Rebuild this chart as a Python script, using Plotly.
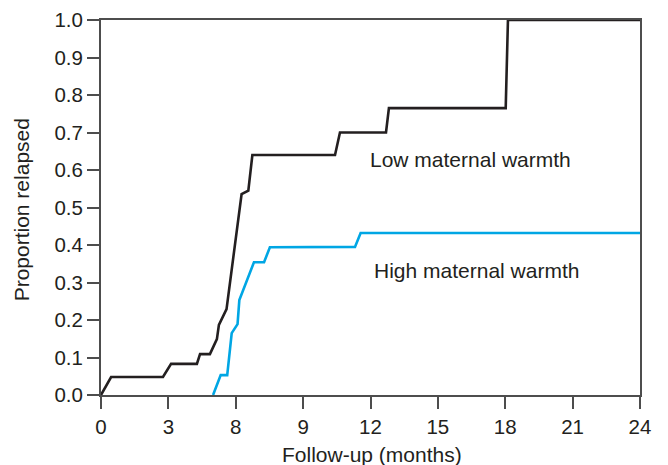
import plotly.graph_objects as go

# Kaplan-Meier style cumulative relapse curves (months, proportion relapsed)
low_months = [0, 0.45, 2.76, 3.12, 4.27, 4.41, 4.85, 5.16, 5.25, 5.59, 6.26, 6.56,
              6.74, 10.42, 10.64, 12.69, 12.82, 18.02, 18.12, 24]
low_relapsed = [0, 0.048, 0.048, 0.083, 0.083, 0.109, 0.109, 0.149, 0.187, 0.229,
                0.536, 0.545, 0.64, 0.64, 0.70, 0.70, 0.765, 0.765, 1.0, 1.0]

high_months = [4.99, 5.33, 5.62, 5.82, 6.08, 6.16, 6.81, 7.26, 7.52, 11.31, 11.56, 24]
high_relapsed = [0, 0.053, 0.053, 0.165, 0.189, 0.253, 0.354, 0.354, 0.394, 0.395,
                 0.432, 0.432]

x_tick_vals = [0, 3, 6, 9, 12, 15, 18, 21, 24]
x_tick_text = ["0", "3", "8", "9", "12", "15", "18", "21", "24"]
y_tick_vals = [0.0, 0.1, 0.2, 0.3, 0.4, 0.5, 0.6, 0.7, 0.8, 0.9, 1.0]

series_labels = ["Low maternal warmth", "High maternal warmth"]
x_title = "Follow-up (months)"
y_title = "Proportion relapsed"

FONT = "Liberation Sans, Arial, sans-serif"
TEXT = "#231f20"
AXIS = "#4d4d4d"

fig = go.Figure()
fig.add_trace(go.Scatter(
    x=low_months, y=low_relapsed, mode="lines",
    line=dict(color="#231f20", width=2.6), cliponaxis=False,
    name=series_labels[0], showlegend=False,
))
fig.add_trace(go.Scatter(
    x=high_months, y=high_relapsed, mode="lines",
    line=dict(color="#00a6e4", width=2.6), cliponaxis=False,
    name=series_labels[1], showlegend=False,
))

# curve labels
fig.add_annotation(x=11.89, y=0.628, text=series_labels[0], showarrow=False,
                   xanchor="left", yanchor="middle",
                   font=dict(family=FONT, size=21, color=TEXT))
fig.add_annotation(x=12.07, y=0.333, text=series_labels[1], showarrow=False,
                   xanchor="left", yanchor="middle",
                   font=dict(family=FONT, size=21, color=TEXT))

# axis titles
fig.add_annotation(x=0.502, y=-0.158, xref="paper", yref="paper", text=x_title,
                   showarrow=False, xanchor="center", yanchor="middle",
                   font=dict(family=FONT, size=21, color=TEXT))
fig.add_annotation(x=-0.148, y=0.493, xref="paper", yref="paper", text=y_title,
                   showarrow=False, xanchor="center", yanchor="middle", textangle=-90,
                   font=dict(family=FONT, size=21, color=TEXT))

fig.update_layout(
    width=668, height=465,
    margin=dict(l=101, r=28, t=20, b=70),
    paper_bgcolor="white", plot_bgcolor="white",
    font=dict(family=FONT, color=TEXT),
    xaxis=dict(
        range=[0, 24], tickmode="array", tickvals=x_tick_vals, ticktext=x_tick_text,
        showgrid=False, zeroline=False, showline=True, linecolor=AXIS, linewidth=2,
        mirror=True, ticks="outside", ticklen=12, tickwidth=2, tickcolor=AXIS,
        tickfont=dict(size=20.5, color=TEXT), automargin=False,
    ),
    yaxis=dict(
        range=[0, 1], tickmode="array", tickvals=y_tick_vals, tickformat=".1f",
        showgrid=False, zeroline=False, showline=True, linecolor=AXIS, linewidth=2,
        mirror=True, ticks="outside", ticklen=12, tickwidth=2, tickcolor=AXIS,
        tickfont=dict(size=20.5, color=TEXT), automargin=False,
    ),
)

fig.write_html("out.html")
